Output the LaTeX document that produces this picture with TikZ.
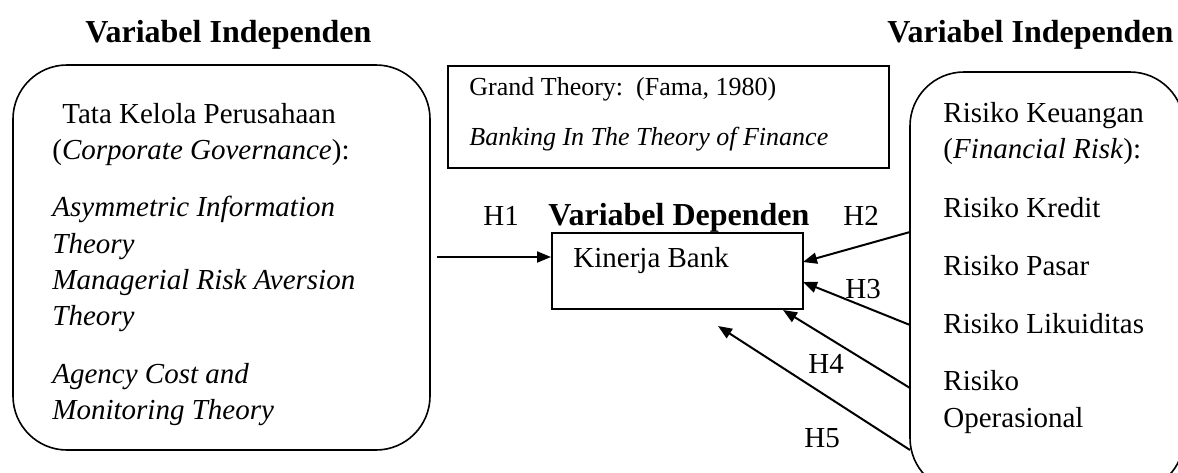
\documentclass[tikz,border=0pt]{standalone}
\usepackage{fontspec}
\setmainfont{Liberation Serif}
\usetikzlibrary{arrows.meta}
\tikzset{vb/.style = {anchor=base west, inner sep=0pt, font=\fontsize{16}{19}\selectfont\bfseries},
         tx/.style = {anchor=base west, inner sep=0pt, font=\fontsize{14.5}{18}\selectfont},
         gt/.style = {anchor=base west, inner sep=0pt, font=\fontsize{13}{16}\selectfont},
         rb/.style = {draw, line width=0.8pt, rounded corners=27pt},
         bx/.style = {draw, line width=0.8pt, inner sep=0pt},
         hy/.style = {line width=1pt, -{Triangle[length=7pt, width=5.5pt]}}}

\begin{document}
\begin{tikzpicture}[x=0.5pt, y=-0.5pt]
    \clip (0,0) rectangle (1178,472);
    % headings
    \node[vb] (lh) at (85,42) {Variabel Independen};
    \node[vb] (rh) at (887,42) {Variabel Independen};
    % left box
    \draw[rb] (13,65) rectangle (430,450);
    \node[tx] (tk) at (62,123) {Tata Kelola Perusahaan};
    \node[tx] (cg) at (52,159) {(\textit{Corporate Governance}):};
    \node[tx] (ai) at (52,216) {\textit{Asymmetric Information}};
    \node[tx] (ai2) at (52,253) {\textit{Theory}};
    \node[tx] (mr) at (52,289) {\textit{Managerial Risk Aversion}};
    \node[tx] (mr2) at (52,325) {\textit{Theory}};
    \node[tx] (ac) at (52,383) {\textit{Agency Cost and}};
    \node[tx] (ac2) at (52,419) {\textit{Monitoring Theory}};
    % grand theory
    \node[bx, minimum width=220.5pt, minimum height=51pt, anchor=north west] (gb) at (447,65) {};
    \node[gt] (gt1) at (469,95) {Grand Theory:\ \ (Fama, 1980)};
    \node[gt] (gt2) at (469,145) {\textit{Banking In The Theory of Finance}};
    % dependent
    \node[vb] (dh) at (548,225) {Variabel Dependen};
    \node[bx, minimum width=125.5pt, minimum height=38pt, anchor=north west] (kb) at (551,232) {};
    \node[tx] (kt) at (573,267) {Kinerja Bank};
    % right box
    \draw[rb] (910,72) rectangle (1184,492);
    \node[tx] (rk) at (943,122) {Risiko Keuangan};
    \node[tx] (fr) at (943,158) {(\textit{Financial Risk}):};
    \node[tx] (kr) at (943,217) {Risiko Kredit};
    \node[tx] (ps) at (943,275) {Risiko Pasar};
    \node[tx] (lk) at (943,333) {Risiko Likuiditas};
    \node[tx] (op) at (943,390) {Risiko};
    \node[tx] (op2) at (943,427) {Operasional};
    % hypotheses
    \coordinate (s1) at (437,257);
    \coordinate (s2) at (910,232); \coordinate (e2) at (803,262);
    \coordinate (s3) at (910,325); \coordinate (e3) at (803,282);
    \coordinate (s4) at (910,388); \coordinate (e4) at (783,310);
    \coordinate (s5) at (910,450); \coordinate (e5) at (718,326);
    \draw[hy] (s1) -- (kb.west |- s1);
    \draw[hy] (s2) -- (e2);
    \draw[hy] (s3) -- (e3);
    \draw[hy] (s4) -- (e4);
    \draw[hy] (s5) -- (e5);
    \node[tx] (h1) at (483,225) {H1};
    \node[tx] (h2) at (843,225) {H2};
    \node[tx] (h3) at (845,298) {H3};
    \node[tx] (h4) at (808,373) {H4};
    \node[tx] (h5) at (804,447) {H5};
\end{tikzpicture}
\end{document}
